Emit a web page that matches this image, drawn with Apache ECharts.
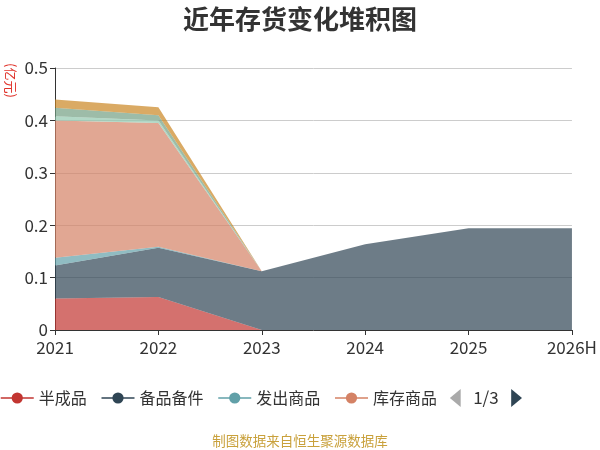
<!DOCTYPE html>
<html>
<head>
<meta charset="utf-8">
<script src="https://cdn.jsdelivr.net/npm/echarts@6/dist/echarts.min.js"></script>
<style>
  html, body { margin: 0; padding: 0; background: #fff; }
  #chart { width: 600px; height: 450px; }
</style>
</head>
<body>
<div id="chart"></div>
<script>
const years = ['2021', '2022', '2023', '2024', '2025', '2026H']
const seriesNames = ['半成品', '备品备件', '发出商品', '库存商品', '委托加工物资', '原材料', '在产品', '周转材料', '自制半成品']

// 单位：亿元
const banChengPin = [0.060, 0.063, 0, 0, 0, 0]
const beiPinBeiJian = [0.063, 0.094, 0.112, 0.1635, 0.194, 0.194]
const faChuShangPin = [0.015, 0.002, 0, 0, 0, 0]
const kuCunShangPin = [0.262, 0.236, 0, 0, 0, 0]
const weiTuoJiaGong = [0.008, 0.005, 0, 0, 0, 0]
const yuanCaiLiao = [0.016, 0.010, 0, 0, 0, 0]
const zaiChanPin = [0.016, 0.015, 0, 0, 0, 0]
const zhouZhuanCaiLiao = [0, 0, 0, 0, 0, 0]
const ziZhiBanChengPin = [0, 0, 0, 0, 0, 0]

const values = [banChengPin, beiPinBeiJian, faChuShangPin, kuCunShangPin, weiTuoJiaGong,
  yuanCaiLiao, zaiChanPin, zhouZhuanCaiLiao, ziZhiBanChengPin]

const colors = ['#c23531', '#2f4554', '#61a0a8', '#d48265', '#91c7ae', '#749f83', '#ca8622', '#bda29a', '#6e7074']
const font = '"Noto Sans CJK SC", "Noto Sans", sans-serif'

const chart = echarts.init(document.getElementById('chart'))

const option = {
  color: colors,
  textStyle: { fontFamily: font },
  title: [
    {
      text: '近年存货变化堆积图',
      left: 'center',
      top: 1,
      textStyle: { fontSize: 26, fontWeight: 'bold', color: '#333', fontFamily: font }
    },
    {
      text: '制图数据来自恒生聚源数据库',
      left: 'center',
      top: 429,
      textStyle: { fontSize: 13.5, fontWeight: 'normal', color: '#c9a13c', fontFamily: font }
    }
  ],
  graphic: [{
    type: 'text',
    left: 4,
    top: 63,
    rotation: -Math.PI / 2,
    style: { text: '(亿元)', fill: '#e0322a', fontSize: 13, fontFamily: font }
  }],
  legend: {
    type: 'scroll',
    left: 0,
    top: 389,
    width: 522,
    padding: 0,
    itemWidth: 33,
    itemHeight: 14,
    itemGap: 14,
    textStyle: { fontSize: 16, color: '#333' },
    lineStyle: { width: 1.5 },
    pageButtonGap: 14,
    pageButtonItemGap: 5,
    pageTextStyle: { fontSize: 17, color: '#333' },
    pageIconColor: '#2f4554',
    pageIconInactiveColor: '#aaa',
    pageIconSize: [11, 18],
    data: seriesNames
  },
  grid: {
    left: 55,
    right: 24,
    top: 68,
    bottom: 120
  },
  xAxis: {
    type: 'category',
    boundaryGap: false,
    data: years,
    axisLine: { lineStyle: { color: '#333' } },
    axisTick: { show: true, alignWithLabel: true, lineStyle: { color: '#333' } },
    axisLabel: { fontSize: 17, color: '#333', margin: 9 }
  },
  yAxis: {
    type: 'value',
    min: 0,
    max: 0.5,
    interval: 0.1,
    axisLine: { show: true, lineStyle: { color: '#333' } },
    axisTick: { show: true, lineStyle: { color: '#333' } },
    axisLabel: { fontSize: 17, color: '#333', margin: 7 },
    splitLine: { lineStyle: { color: '#ccc' } }
  },
  series: seriesNames.map((name, i) => ({
    name,
    type: 'line',
    stack: 'total',
    symbol: 'circle',
    symbolSize: 12,
    showSymbol: false,
    lineStyle: { width: 0 },
    areaStyle: { opacity: 0.7 },
    data: values[i]
  }))
}

chart.setOption(option)
</script>
</body>
</html>
